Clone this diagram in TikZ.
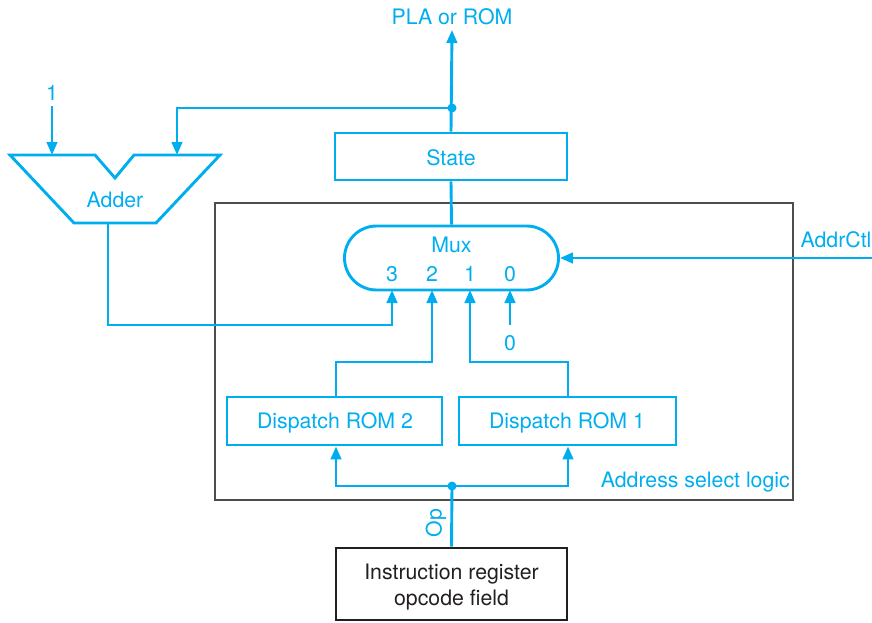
\documentclass[tikz,border=0pt]{standalone}
\usepackage{fontspec}
\setmainfont{TeX Gyre Heros}
\usetikzlibrary{arrows.meta}
\definecolor{cy}{HTML}{00AEEF}
\definecolor{ink}{HTML}{231F20}
\begin{document}
\begin{tikzpicture}[x=1pt,y=-1pt,
  every node/.style={font=\fontsize{21.3}{26}\selectfont},
  wire/.style={draw=cy,line width=2.9pt},
  arr/.style={wire,-{Triangle[length=13pt,width=10.5pt]}},
  cybox/.style={draw=cy,line width=2.9pt,rectangle,text=cy,inner sep=0pt},
  lbl/.style={text=cy,inner sep=0pt},
  dotn/.style={circle,fill=cy,inner sep=0pt,minimum size=9pt}]
\useasboundingbox (0,0) rectangle (872,623);
% address select logic box
\draw[line width=1.2pt,draw=ink!80] (215,203) rectangle (793,500);
\node[lbl,anchor=east] (asl) at (790,482) {Address select logic};
% state
\node[cybox,minimum width=232pt,minimum height=47pt] (state) at (451,156.5) {};
\node[lbl] (statel) at (451,157.5) {State};
% mux
\node[draw=cy,line width=2.9pt,rounded corners=32pt,minimum width=214pt,minimum height=64pt,inner sep=0pt] (mux) at (451.5,258) {};
\node[lbl] (muxl) at (451.5,245) {Mux};
\node[lbl] (m3) at (392,274) {3};
\node[lbl] (m2) at (432,274) {2};
\node[lbl] (m1) at (470,274) {1};
\node[lbl] (m0) at (510,274) {0};
\coordinate (i3) at (392,290);
\coordinate (i2) at (432,290);
\coordinate (i1) at (470,290);
\coordinate (i0) at (510,290);
% dispatch roms
\node[cybox,minimum width=215pt,minimum height=48pt] (rom2) at (334.5,421) {};
\node[lbl] (rom2l) at (335,422.5) {Dispatch ROM 2};
\node[cybox,minimum width=217pt,minimum height=48pt] (rom1) at (567.5,421) {};
\node[lbl] (rom1l) at (567,422.5) {Dispatch ROM 1};
% instruction register
\node[draw=ink,line width=2.9pt,rectangle,minimum width=231pt,minimum height=72pt,inner sep=0pt] (ir) at (451.5,584) {};
\node[text=ink,align=center,inner sep=0pt] (irl) at (451.5,587) {Instruction register\\opcode field};
% adder
\draw[wire,line join=miter] (10,155) -- (95,155) -- (115,178) -- (134,155) -- (220,155) -- (156,223) -- (74,223) -- cycle;
\node[lbl] (adder) at (115,200) {Adder};
\coordinate (addin1) at (52,155);
\coordinate (addin2) at (177,155);
\coordinate (addout) at (108,223);
% top
\node[lbl] (pla) at (452,17) {PLA or ROM};
\coordinate (platip) at (452,30);
\node[dotn] (d1) at (452,108) {};
\draw[arr] (state.north) -- (platip);
\draw[arr] (d1.center) -| (addin2);
\node[lbl] (one) at (52,93) {1};
\coordinate (onest) at (52,106);
\draw[arr] (onest) -- (addin1);
\draw[arr] (addout) -- (108,325) -| (i3);
\draw[wire] (state.south) -- (mux.north);
% addrctl
\node[lbl] (actl) at (836,240) {AddrCtl};
\coordinate (actlst) at (872,258);
\draw[arr] (actlst) -- (mux.east);
% inputs
\draw[arr] (rom2.north -| 336,0) -- (336,362) -| (i2);
\draw[arr] (rom1.north -| 568,0) -- (568,362) -| (i1);
\node[lbl] (zero) at (510,343) {0};
\coordinate (zst) at (510,325);
\draw[arr] (zst) -- (i0);
% op
\node[dotn] (d2) at (452,486) {};
\draw[wire] (ir.north) -- (d2.center);
\draw[arr] (d2.center) -- (336,486) -- (rom2.south -| 336,0);
\draw[arr] (d2.center) -- (568,486) -- (rom1.south -| 568,0);
\node[lbl,rotate=90] (op) at (436,523) {Op};
\end{tikzpicture}
\end{document}
